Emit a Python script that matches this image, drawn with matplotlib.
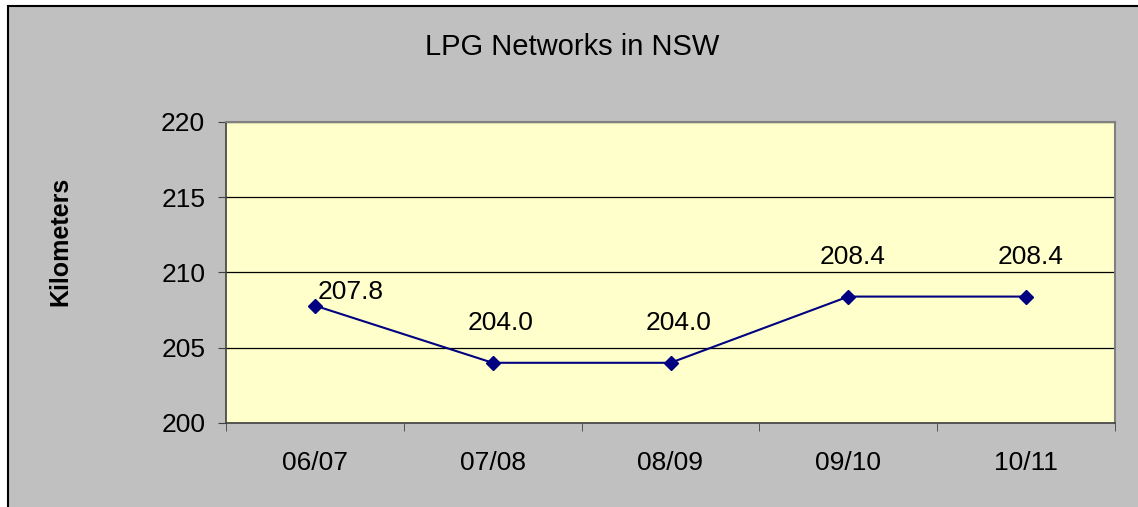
import matplotlib.pyplot as plt
from matplotlib.patches import Rectangle
import numpy as np

# datos del grafico
years = ['06/07', '07/08', '08/09', '09/10', '10/11']
km = [207.8, 204.0, 204.0, 208.4, 208.4]
y_ticks = [200, 205, 210, 215, 220]

# desplazamiento de las etiquetas (en pixeles)
offsets = [(36, 14), (8, 40), (8, 40), (4, 40), (4, 40)]

plt.rcParams['font.family'] = ['Liberation Sans', 'DejaVu Sans']

fig = plt.figure(figsize=(11.38, 5.07), dpi=100)
fig.patch.set_facecolor('white')

# fondo gris con borde negro
fig.patches.append(Rectangle((8/1138, -0.05), 1.1, 1 - 6/507 + 0.05,
                             transform=fig.transFigure, facecolor='#C0C0C0',
                             edgecolor='black', linewidth=1.5, zorder=-5))

ax = fig.add_axes([226/1138, 84/507, 889/1138, 301/507])
ax.set_facecolor('#FFFFCC')

x = np.arange(len(years))
ax.plot(x, km, color='#000080', linewidth=1.5, marker='D', markersize=7,
        zorder=3)

for xi, v, off in zip(x, km, offsets):
    ax.annotate('%.1f' % v, (xi, v), xytext=(off[0] * 0.72, off[1] * 0.72),
                textcoords='offset points', ha='center', va='center',
                fontsize=19, color='black')

ax.set_ylim(200, 220)
ax.set_yticks(y_ticks)
ax.set_yticklabels([str(t) for t in y_ticks], fontsize=19)
ax.yaxis.grid(True, color='black', linewidth=0.9)
ax.set_axisbelow(True)

ax.set_xlim(-0.5, len(years) - 0.5)
ax.set_xticks(x)
ax.set_xticklabels(years, fontsize=19)
ax.set_xticks(np.arange(-0.5, len(years)), minor=True)
ax.tick_params(axis='x', which='major', length=0, pad=20)
ax.tick_params(axis='x', which='minor', length=6, color='#404040')
ax.tick_params(axis='y', length=6, pad=9, color='#404040')

for s in ['top', 'right']:
    ax.spines[s].set_color('#808080')
    ax.spines[s].set_linewidth(1.5)
for s in ['left', 'bottom']:
    ax.spines[s].set_color('#404040')
    ax.spines[s].set_linewidth(1.2)

fig.text(572/1138, 1 - 47/507, 'LPG Networks in NSW', ha='center',
         va='center', fontsize=21)
fig.text(60/1138, 1 - 241/507, 'Kilometers', rotation=90, ha='center',
         va='center', fontsize=18, fontweight='bold')

plt.savefig('out.png', dpi=100, facecolor=fig.get_facecolor())
